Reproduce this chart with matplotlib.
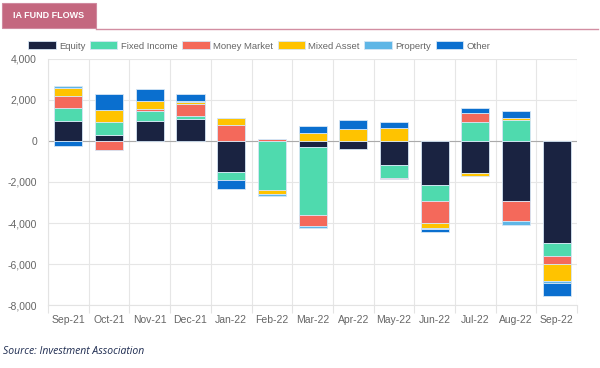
import numpy as np
import matplotlib.pyplot as plt
from matplotlib.patches import Rectangle

plt.rcParams['font.family'] = ['Liberation Sans', 'DejaVu Sans']

months = ['Sep-21', 'Oct-21', 'Nov-21', 'Dec-21', 'Jan-22', 'Feb-22', 'Mar-22',
          'Apr-22', 'May-22', 'Jun-22', 'Jul-22', 'Aug-22', 'Sep-22']

# fund flows, GBP m
equity       = [950, 280, 950, 1050, -1530, 0, -280, -380, -1150, -2165, -1560, -2920, -4980]
fixed_income = [640, 650, 520, 160, -360, -2410, -3315, 0, -670, -740, 900, 1000, -620]
money_market = [610, -430, 80, 570, 790, 115, -540, 0, -50, -1110, 460, -1000, -410]
mixed_asset  = [380, 600, 410, 130, 340, -165, 390, 575, 640, -245, -160, 100, -820]
property_    = [80, 0, 0, 40, 0, -100, -130, 0, 0, -40, 0, -160, -110]
other        = [-250, 740, 560, 330, -430, 0, 340, 425, 260, -120, 230, 345, -620]

names = ['Equity', 'Fixed Income', 'Money Market', 'Mixed Asset', 'Property', 'Other']
series = [equity, fixed_income, money_market, mixed_asset, property_, other]
colors = ['#1a2341', '#4fdaae', '#f4695b', '#ffc300', '#5fb6e6', '#0a6fcf']

fig = plt.figure(figsize=(6, 3.68), dpi=100)
ax = fig.add_axes([0.08, 0.171, 0.882, 0.669])

x = np.arange(len(months))
pos = np.zeros(len(months))
neg = np.zeros(len(months))
for name, vals, c in zip(names, series, colors):
    v = np.array(vals, dtype=float)
    bottom = np.where(v >= 0, pos, neg)
    ax.bar(x, v, 0.69, bottom=bottom, color=c, edgecolor='#d6e6f5',
           linewidth=0.6, label=name, zorder=3)
    pos += np.where(v >= 0, v, 0)
    neg += np.where(v < 0, v, 0)

ax.set_xlim(-0.5, len(months) - 0.5)
ax.set_ylim(-8000, 4000)
ax.set_yticks(np.arange(-8000, 4001, 2000))
ax.set_yticklabels([f'{t:,}' for t in range(-8000, 4001, 2000)])
ax.set_xticks(x)
ax.set_xticklabels(months)
ax.set_xticks(np.arange(-0.5, len(months)), minor=True)
ax.tick_params(axis='x', which='major', length=0, pad=7, labelsize=7.5, labelcolor='#666666')
ax.tick_params(axis='x', which='minor', length=6, color='#e3e3e3', width=0.8)
ax.tick_params(axis='y', length=0, pad=8, labelsize=7.5, labelcolor='#666666')
ax.grid(True, axis='y', color='#e6e6e6', linewidth=0.8, zorder=0)
ax.grid(True, axis='x', which='minor', color='#e6e6e6', linewidth=0.8, zorder=0)
ax.axhline(0, color='#aaaaaa', linewidth=0.8, zorder=2)
for s in ['top', 'right']:
    ax.spines[s].set_visible(False)
ax.spines['left'].set_color('#e3e3e3')
ax.spines['bottom'].set_color('#e3e3e3')

fig.legend(loc='center', bbox_to_anchor=(0.432, 1 - 46 / 368), ncol=6, frameon=False,
           fontsize=6.8, handlelength=2.9, handleheight=0.85, columnspacing=0.5,
           handletextpad=0.35, labelcolor='#666666')

# header tab
fig.add_artist(Rectangle((2 / 600, 1 - 28 / 368), 94 / 600, 25 / 368,
                         transform=fig.transFigure, facecolor='#c4677f',
                         edgecolor='#d08aa0', linewidth=0.8))
fig.add_artist(plt.Line2D([96 / 600, 598 / 600], [1 - 28.5 / 368] * 2,
                          transform=fig.transFigure, color='#d28ea2', linewidth=1))
fig.text(49 / 600, 1 - 16 / 368, 'IA FUND FLOWS', ha='center', va='center',
         color='white', fontsize=6.5, fontweight='bold')

fig.text(3 / 600, 1 - 351 / 368, 'Source: Investment Association', ha='left', va='center',
         fontsize=7.5, style='italic', color='#1d2b50', family=['Open Sans', 'DejaVu Sans'])

plt.savefig('out.png', dpi=100)
